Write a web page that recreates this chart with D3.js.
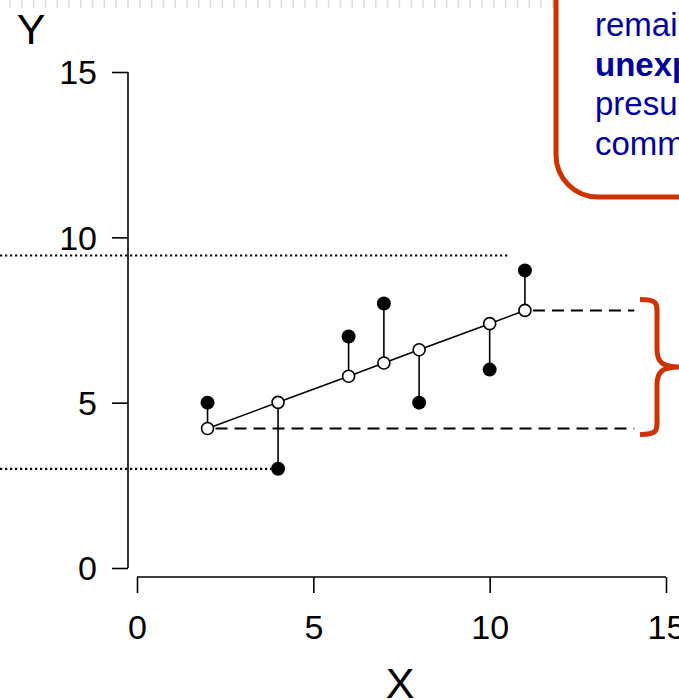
<!DOCTYPE html>
<html>
<head>
<meta charset="utf-8">
<script src="https://cdn.jsdelivr.net/npm/d3@7"></script>
<style>
  body { margin: 0; background: #fff; }
  svg { display: block; font-family: "Liberation Sans", Arial, Helvetica, sans-serif; }
</style>
</head>
<body>
<div id="canvas"></div>
<script>
// data
var xs = [2, 4, 6, 7, 8, 10, 11];
var observed = [5, 3, 7, 8, 5, 6, 9];
var fitted = [4.22, 5.01, 5.80, 6.20, 6.60, 7.39, 7.79];
var xTicks = [0, 5, 10, 15];
var yTicks = [0, 5, 10, 15];
// dotted reference lines: level and where they stop on x
var dottedLevels = [9.45, 3.0];
var dottedEnds = [10.55, 3.8];
// dashed lines from first / last fitted point
var dashedEnd = 14.1;
var noteLines = ["remaining", "unexplained", "presumably", "common"];
var noteBold = [false, true, false, false];

var W = 679, H = 700;
var svg = d3.select("#canvas").append("svg")
  .attr("width", W)
  .attr("height", H);

var x = d3.scaleLinear().domain([0, 15]).range([137, 666]);
var y = d3.scaleLinear().domain([0, 15]).range([568, 72]);

// faint marks along the top edge
svg.append("g")
  .selectAll("line")
  .data(d3.range(10, W, 11.8))
  .enter().append("line")
  .attr("x1", function (d) { return d; })
  .attr("x2", function (d) { return d; })
  .attr("y1", 0)
  .attr("y2", 8)
  .style("stroke", "#dcdcdc")
  .style("stroke-width", "1.5px");

// axes
var yAxis = svg.append("g")
  .attr("transform", "translate(128,0)")
  .call(d3.axisLeft(y).tickValues(yTicks).tickSize(16).tickPadding(15));
var xAxis = svg.append("g")
  .attr("transform", "translate(0,577)")
  .call(d3.axisBottom(x).tickValues(xTicks).tickSize(16).tickPadding(16));

[xAxis, yAxis].forEach(function (a) {
  a.select(".domain").style("stroke", "#000").style("stroke-width", "1.6px");
  a.selectAll(".tick line").style("stroke", "#000").style("stroke-width", "1.6px");
  a.selectAll(".tick text")
    .style("font-size", "34px")
    .style("font-family", "Liberation Sans, Arial, sans-serif")
    .style("fill", "#000");
});
// R style axes: domain runs only between end ticks, no outer caps
yAxis.select(".domain").attr("d", "M0," + y(15) + "V" + y(0));
xAxis.select(".domain").attr("d", "M" + x(0) + ",0H" + x(15));
yAxis.selectAll(".tick text").attr("dy", "0.35em");
xAxis.selectAll(".tick text").attr("dy", "0.72em").attr("y", 38);

// axis titles
svg.append("text")
  .attr("x", 31).attr("y", 44)
  .attr("text-anchor", "middle")
  .style("font-size", "43px")
  .text("Y");
svg.append("text")
  .attr("x", 400).attr("y", 698)
  .attr("text-anchor", "middle")
  .style("font-size", "43px")
  .text("X");

// dotted lines running in from the left
svg.append("g")
  .selectAll("line")
  .data(dottedLevels)
  .enter().append("line")
  .attr("x1", 0)
  .attr("x2", function (d, i) { return x(dottedEnds[i]); })
  .attr("y1", function (d) { return y(d); })
  .attr("y2", function (d) { return y(d); })
  .style("stroke", "#000")
  .style("stroke-width", "2.2px")
  .style("stroke-dasharray", "2.2,2.8");

// dashed lines at first and last fitted value
var ends = [0, xs.length - 1];
svg.append("g")
  .selectAll("line")
  .data(ends)
  .enter().append("line")
  .attr("x1", function (i) { return x(xs[i]) + 8; })
  .attr("x2", x(dashedEnd))
  .attr("y1", function (i) { return y(fitted[i]); })
  .attr("y2", function (i) { return y(fitted[i]); })
  .style("stroke", "#000")
  .style("stroke-width", "2px")
  .style("stroke-dasharray", "12,7");

// residual segments
svg.append("g")
  .selectAll("line")
  .data(xs)
  .enter().append("line")
  .attr("x1", function (d) { return x(d); })
  .attr("x2", function (d) { return x(d); })
  .attr("y1", function (d, i) { return y(observed[i]); })
  .attr("y2", function (d, i) { return y(fitted[i]); })
  .style("stroke", "#000")
  .style("stroke-width", "1.6px");

// regression line through fitted points
var line = d3.line()
  .x(function (d) { return x(d); })
  .y(function (d, i) { return y(fitted[i]); });
svg.append("path")
  .datum(xs)
  .attr("d", line)
  .style("fill", "none")
  .style("stroke", "#000")
  .style("stroke-width", "1.6px");

// observed points
svg.append("g")
  .selectAll("circle")
  .data(xs)
  .enter().append("circle")
  .attr("cx", function (d) { return x(d); })
  .attr("cy", function (d, i) { return y(observed[i]); })
  .attr("r", 7)
  .style("fill", "#000");

// fitted points (open)
svg.append("g")
  .selectAll("circle")
  .data(xs)
  .enter().append("circle")
  .attr("cx", function (d) { return x(d); })
  .attr("cy", function (d, i) { return y(fitted[i]); })
  .attr("r", 6)
  .style("fill", "#fff")
  .style("stroke", "#000")
  .style("stroke-width", "1.6px");

// curly brace spanning the two dashed levels
var bTop = y(fitted[xs.length - 1]) - 11, bBot = y(fitted[0]) + 6;
var bMid = (bTop + bBot) / 2;
var bx = 640, bv = 657, btip = 680;
svg.append("path")
  .attr("d",
    "M" + bx + "," + bTop +
    "C" + (bv + 2) + "," + bTop + " " + bv + "," + (bTop + 4) + " " + bv + "," + (bTop + 20) +
    "V" + (bMid - 18) +
    "C" + bv + "," + (bMid - 4) + " " + (bv + 6) + "," + bMid + " " + btip + "," + bMid +
    "C" + (bv + 6) + "," + bMid + " " + bv + "," + (bMid + 4) + " " + bv + "," + (bMid + 18) +
    "V" + (bBot - 20) +
    "C" + bv + "," + (bBot - 4) + " " + (bv + 2) + "," + bBot + " " + bx + "," + bBot)
  .style("fill", "none")
  .style("stroke", "#cc3300")
  .style("stroke-width", "5px");

// annotation box at top right
svg.append("rect")
  .attr("x", 556).attr("y", -120)
  .attr("width", 320).attr("height", 317)
  .attr("rx", 42).attr("ry", 42)
  .style("fill", "#fff")
  .style("stroke", "#cc3300")
  .style("stroke-width", "5px");

svg.append("g")
  .selectAll("text")
  .data(noteLines)
  .enter().append("text")
  .attr("x", 595)
  .attr("y", function (d, i) { return 36 + i * 39.5; })
  .style("font-size", "33px")
  .style("font-weight", function (d, i) { return noteBold[i] ? "bold" : "normal"; })
  .style("fill", "#000099")
  .text(function (d) { return d; });
</script>
</body>
</html>
